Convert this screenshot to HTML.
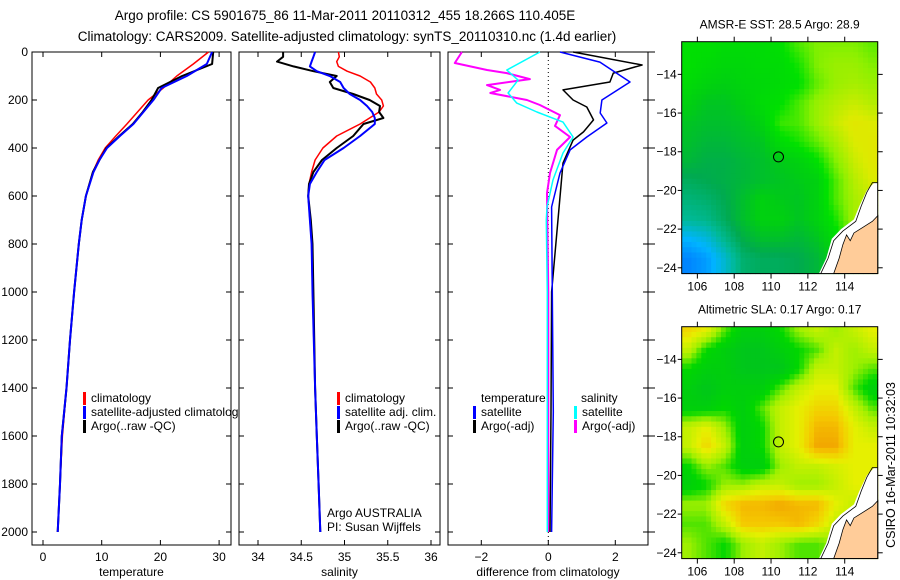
<!DOCTYPE html>
<html><head><meta charset="utf-8"><style>
body{margin:0;background:#fff;}
svg{display:block;font-family:"Liberation Sans",sans-serif;}
</style></head><body>
<svg id="fig" width="900" height="580" viewBox="0 0 900 580">
<rect width="900" height="580" fill="#fff"/>
<text x="345" y="20" font-size="13.5" text-anchor="middle">Argo profile: CS 5901675_86 11-Mar-2011 20110312_455 18.266S 110.405E</text>
<text x="347" y="41" font-size="13.5" text-anchor="middle">Climatology: CARS2009. Satellite-adjusted climatology: synTS_20110310.nc (1.4d earlier)</text>
<g id="g"></g>
<text transform="translate(895,465) rotate(-90)" font-size="12.5" text-anchor="middle">CSIRO 16-Mar-2011 10:32:03</text>
</svg>
<script>
// ---- profile data ----
const tDepth = [0,50,100,150,200,250,300,350,400,450,500,600,700,800,1000,1200,1400,1600,1800,2000];
const tempClim = [28.2,25.6,22.8,20.5,17.9,16.1,14.3,12.4,10.6,9.4,8.5,7.3,6.6,6.1,5.3,4.6,4.0,3.3,2.9,2.5];
const tempArgo = [29.0,28.8,23.7,19.6,18.5,17.0,15.3,13.0,10.8,9.6,8.5,7.3,6.6,6.1,5.3,4.6,4.0,3.2,2.9,2.5];
const tempSat  = [28.8,27.9,24.5,20.2,18.8,17.1,15.4,13.1,10.9,9.6,8.6,7.3,6.6,6.1,5.3,4.6,4.0,3.2,2.9,2.5];
const sDepth = [0,20,40,60,80,100,125,150,175,200,225,250,275,300,350,400,450,500,550,600,700,800,1000,1400,1600,1800,2000];
const salClim = [34.93,34.94,34.91,34.93,35.03,35.18,35.30,35.35,35.37,35.43,35.45,35.40,35.29,35.18,34.91,34.75,34.66,34.62,34.59,34.58,34.60,34.62,34.63,34.66,34.68,34.70,34.72];
const salArgo = [34.29,34.29,34.22,34.41,34.64,34.91,34.83,34.87,35.10,35.29,35.41,35.40,35.45,35.22,35.10,34.91,34.74,34.64,34.59,34.58,34.61,34.63,34.64,34.66,34.68,34.70,34.72];
const salSat  = [34.66,34.64,34.62,34.60,34.68,34.83,34.95,34.99,35.06,35.18,35.26,35.32,35.35,35.35,35.18,34.99,34.77,34.68,34.60,34.58,34.60,34.62,34.63,34.66,34.68,34.70,34.72];
const dTDepthSat = [0,42,79,125,200,254,296,354,408,504,646,1000,1500,2000];
const dTSat =      [0.35,1.54,1.94,2.44,1.6,1.55,1.75,1.15,0.65,0.35,0.1,0.12,0.15,0.1];
const dTDepthArgo = [0,54,88,125,158,200,229,283,333,367,463,1000,1500,2000];
const dTArgo =      [0.74,2.8,1.94,1.84,0.44,0.74,1.15,1.35,1.05,0.74,0.44,0.1,0.08,0.05];
const dSDepthSat = [0,75,117,171,213,250,292,354,421,533,646,700,1000,2000];
const dSSat =      [-0.25,-1.24,-0.9,-1.2,-0.94,-0.34,0.44,0.74,0.44,0.14,-0.04,-0.06,-0.03,-0.03];
const dSDepthArgo = [0,46,75,88,113,138,158,171,200,221,263,308,354,408,504,588,1000,2000];
const dSArgo =      [-2.58,-2.79,-1.83,-1.24,-0.55,-1.83,-1.44,-1.73,-0.64,-0.25,0.35,0.2,0.65,0.26,0.05,-0.04,0.0,0.0];
// ---- map data (rows: lat 12.5..23.5 S, cols: lon 105.5..115.5 E) ----
const sstGrid = [
[.64,.64,.62,.62,.62,.64,.72,.77,.77,.77,.74],
[.64,.62,.60,.60,.62,.62,.67,.77,.80,.80,.77],
[.62,.58,.56,.59,.60,.62,.64,.74,.80,.82,.80],
[.57,.52,.52,.56,.62,.64,.72,.80,.84,.87,.84],
[.52,.50,.50,.52,.57,.70,.72,.80,.87,.92,.90],
[.50,.47,.47,.50,.52,.62,.67,.74,.82,.90,.92],
[.47,.44,.44,.47,.50,.54,.57,.64,.77,.87,.92],
[.40,.42,.44,.47,.50,.52,.54,.57,.72,.84,.90],
[.35,.37,.42,.50,.57,.54,.52,.57,.72,.82,.87],
[.30,.32,.40,.50,.57,.57,.52,.57,.67,.82,.82],
[.15,.20,.32,.44,.50,.50,.47,.52,.62,.77,.82],
[.05,.10,.22,.37,.40,.40,.42,.47,.57,.72,.77]];
const slaGrid = [
[.80,.70,.40,.20,.20,.30,.50,.60,.50,.60,.70],
[.60,.30,.20,.10,.10,.20,.30,.40,.60,.50,.60],
[.30,.20,.20,.10,.10,.10,.30,.60,.60,.50,.40],
[.20,.10,.20,.20,.20,.40,.60,.70,.70,.40,.20],
[.20,.20,.30,.20,.40,.60,.70,.80,.80,.60,.40],
[.60,.70,.50,.20,.30,.60,.70,.90,.90,.70,.60],
[.60,.80,.60,.20,.30,.60,.70,.95,.95,.70,.70],
[.30,.50,.40,.20,.20,.50,.60,.60,.65,.70,.70],
[.20,.30,.50,.50,.60,.60,.50,.50,.60,.70,.70],
[.50,.50,.80,.90,.90,.95,.90,.90,.70,.60,.60],
[.40,.40,.60,.85,.85,.85,.90,.80,.60,.60,.60],
[.50,.40,.30,.50,.60,.50,.40,.40,.50,.60,.60]];
const depthTicks = [0,200,400,600,800,1000,1200,1400,1600,1800,2000];
const tempTicks = [0,10,20,30];
const salTicks = [34,34.5,35,35.5,36];
const diffTicks = [-2,0,2];
const lonTicks = [106,108,110,112,114];
const latTicks = [14,16,18,20,22,24];

const NS="http://www.w3.org/2000/svg";
const G=document.getElementById('g');
function mk(tag,attrs,parent){const e=document.createElementNS(NS,tag);for(const k in attrs)e.setAttribute(k,attrs[k]);(parent||G).appendChild(e);return e;}
function txt(x,y,s,size,anchor,parent){const t=mk('text',{x:x,y:y,'font-size':size||12,'text-anchor':anchor||'middle'},parent);t.textContent=s;return t;}

const yD=d=>52+0.24*d;
const PTOP=52,PBOT=545;
function panel(name,x0,x1,xs,ticks,label,fmt){
  const r=mk('rect',{x:x0,y:PTOP,width:x1-x0,height:PBOT-PTOP,fill:'#fff',stroke:'#000','stroke-width':1});
  
  
  ticks.forEach(v=>{const x=xs(v);
    mk('line',{x1:x,x2:x,y1:PBOT,y2:PBOT-5,stroke:'#000'});
    mk('line',{x1:x,x2:x,y1:PTOP,y2:PTOP+5,stroke:'#000'});
    const t=txt(x,561,fmt?fmt(v):String(v),12);
    
    
  });
  depthTicks.forEach(d=>{const y=yD(d);
    mk('line',{x1:x0,x2:x0+5,y1:y,y2:y,stroke:'#000'});
    mk('line',{x1:x1,x2:x1-5,y1:y,y2:y,stroke:'#000'});
  });
  const l=txt((x0+x1)/2,576,label,12);
  
  
}
function line(xs,vals,depths,color,w,name){
  const pts=vals.map((v,i)=>xs(v).toFixed(1)+','+yD(depths[i]).toFixed(1)).join(' ');
  const p=mk('polyline',{points:pts,fill:'none',stroke:color,'stroke-width':w,'stroke-linejoin':'round'});
  
  
}
function legend(x,y,color,label,name){
  mk('rect',{x:x,y:y-10,width:3,height:13,fill:color});
  const t=txt(x+8,y,label,12,'start');
  
  
}
// Panel 1 temperature
const xT=v=>43+5.87*v;
panel('temperature-panel',32,231,xT,tempTicks,'temperature');
depthTicks.forEach(d=>{const t=txt(28,yD(d)+4,String(d),12,'end');
  
  });
line(xT,tempClim,tDepth,'#f00',1.5,'temp-climatology-line');
line(xT,tempArgo,tDepth,'#000',2,'temp-argo-line');
line(xT,tempSat,tDepth,'#00f',2,'temp-satellite-line');
legend(83,402,'#f00','climatology','legend-temp-climatology');
legend(83,416,'#00f','satellite-adjusted climatology','legend-temp-satellite');
legend(83,430,'#000','Argo(..raw -QC)','legend-temp-argo');
// Panel 2 salinity
const xS=v=>258+86.5*(v-34);
panel('salinity-panel',239,440,xS,salTicks,'salinity');
line(xS,salClim,sDepth,'#f00',1.5,'sal-climatology-line');
line(xS,salArgo,sDepth,'#000',2,'sal-argo-line');
line(xS,salSat,sDepth,'#00f',2,'sal-satellite-line');
legend(337,402,'#f00','climatology','legend-sal-climatology');
legend(337,416,'#00f','satellite adj. clim.','legend-sal-satellite');
legend(337,430,'#000','Argo(..raw -QC)','legend-sal-argo');
let t1=txt(327,517,'Argo AUSTRALIA',12,'start');


let t2=txt(327,531,'PI: Susan Wijffels',12,'start');


// Panel 3 difference
const xDf=v=>548.3+33.5*v;
panel('difference-panel',448,648,xDf,diffTicks,'difference from climatology',v=>v<0?'\u2212'+(-v):String(v));
depthTicks.forEach(d=>mk('line',{x1:648,x2:655,y1:yD(d),y2:yD(d),stroke:'#000'}));
mk('line',{x1:xDf(0),x2:xDf(0),y1:PTOP,y2:PBOT,stroke:'#000','stroke-dasharray':'1,3'});
line(xDf,dSArgo,dSDepthArgo,'#f0f',2,'diff-sal-argo-line');
line(xDf,dSSat,dSDepthSat,'#0ff',1.5,'diff-sal-satellite-line');
line(xDf,dTArgo,dTDepthArgo,'#000',1.5,'diff-temp-argo-line');
line(xDf,dTSat,dTDepthSat,'#00f',1.5,'diff-temp-satellite-line');
let t3=txt(481,402,'temperature',12,'start');


let t4=txt(581,402,'salinity',12,'start');


legend(473,416,'#00f','satellite','legend-diff-temp-satellite');
legend(473,430,'#000','Argo(-adj)','legend-diff-temp-argo');
legend(574,416,'#0ff','satellite','legend-diff-sal-satellite');
legend(574,430,'#f0f','Argo(-adj)','legend-diff-sal-argo');

// ---- Maps ----
function cmap(stops,v){v=Math.max(0,Math.min(1,v));
  for(let i=1;i<stops.length;i++){if(v<=stops[i][0]){const a=stops[i-1],b=stops[i],f=(v-a[0])/(b[0]-a[0]);
    return 'rgb('+[1,2,3].map(k=>Math.round(a[k]+(b[k]-a[k])*f)).join(',')+')';}}
  const s=stops[stops.length-1];return 'rgb('+s[1]+','+s[2]+','+s[3]+')';}
const sstStops=[[0,0,110,255],[0.15,0,180,255],[0.3,0,185,150],[0.42,0,170,80],[0.55,0,205,20],[0.65,0,225,0],[0.78,140,240,0],[0.9,220,235,0],[1,240,215,0]];
const slaStops=[[0,0,190,40],[0.3,0,215,0],[0.5,160,240,0],[0.7,230,240,0],[0.85,245,200,0],[1,240,150,0]];
function drawMap(name,top,grid,stops,title){
  const X0=681.7,X1=877.7,LON0=105.15,LAT0=12.31,PX=18.42,PY=19.34;
  const lx=lon=>X0+(lon-LON0)*PX, ly=lat=>top+(lat-LAT0)*PY;
  const bottom=ly(24.3);
  const g=mk('g',{});
  
  
  const rows=grid.length,cols=grid[0].length,N=40,M=44;
  const cw=(X1-X0)/N,ch=(bottom-top)/M;
  function samp(fx,fy){fx=Math.max(0,Math.min(cols-1,fx));fy=Math.max(0,Math.min(rows-1,fy));
    const i=Math.min(cols-2,Math.floor(fx)),j=Math.min(rows-2,Math.floor(fy));const a=fx-i,b=fy-j;
    return grid[j][i]*(1-a)*(1-b)+grid[j][i+1]*a*(1-b)+grid[j+1][i]*(1-a)*b+grid[j+1][i+1]*a*b;}
  for(let r=0;r<M;r++)for(let c=0;c<N;c++){
    const lon=LON0+(c+0.5)*cw/PX, lat=LAT0+(r+0.5)*ch/PY;
    const v=samp(lon-105.5,lat-12.5);
    mk('rect',{x:(X0+c*cw).toFixed(2),y:(top+r*ch).toFixed(2),width:(cw+0.5).toFixed(2),height:(ch+0.5).toFixed(2),fill:cmap(stops,v)},g);
  }
  const white=[[112.6,24.3],[113,23.5],[113.3,22.5],[113.8,22],[114.5,21.5],[114.8,20.8],[115.2,20],[115.6,19.6],[115.8,19.6],[115.8,24.3]];
  mk('polygon',{points:white.map(p=>lx(p[0])+','+ly(p[1])).join(' '),fill:'#fff'},g);
  mk('polyline',{points:[[112.7,24.3],[113.1,23.5],[113.4,22.6],[113.9,22.1],[114.6,21.6],[114.9,20.8],[115.2,20.1],[115.5,19.6],[115.8,19.6]].map(p=>lx(p[0])+','+ly(p[1])).join(' '),fill:'none',stroke:'#000','stroke-width':0.8},g);
  const land=[[113.4,24.3],[113.7,23.5],[113.9,22.8],[114.1,22.3],[114.3,22.6],[114.5,22.2],[115,21.9],[115.5,21.6],[115.8,21.3],[115.8,24.3]];
  mk('polygon',{points:land.map(p=>lx(p[0])+','+ly(p[1])).join(' '),fill:'#ffcc99',stroke:'#000','stroke-width':0.8},g);
  mk('rect',{x:X0,y:top,width:X1-X0,height:bottom-top,fill:'none',stroke:'#000'},g);
  lonTicks.forEach(v=>{const x=lx(v);mk('line',{x1:x,x2:x,y1:bottom,y2:bottom+5,stroke:'#000'},g);mk('line',{x1:x,x2:x,y1:top,y2:top-5,stroke:'#000'},g);
    const t=txt(x,bottom+17,String(v),12,'middle',g);});
  latTicks.forEach(v=>{const y=ly(v);mk('line',{x1:X0,x2:X0-4,y1:y,y2:y,stroke:'#000'},g);mk('line',{x1:X1,x2:X1+5,y1:y,y2:y,stroke:'#000'},g);
    const t=txt(X0-5,y+4,'\u2212'+v,12,'end',g);});
  mk('circle',{cx:lx(110.405),cy:ly(18.266),r:5,fill:'none',stroke:'#000'},g);
  const tt=txt((X0+X1)/2,top-13,title,12,'middle',g);
  
  
}
drawMap('sst-map',41.7,sstGrid,sstStops,'AMSR-E SST: 28.5 Argo: 28.9');
drawMap('sla-map',326.7,slaGrid,slaStops,'Altimetric SLA: 0.17 Argo: 0.17');
</script>
</body></html>
